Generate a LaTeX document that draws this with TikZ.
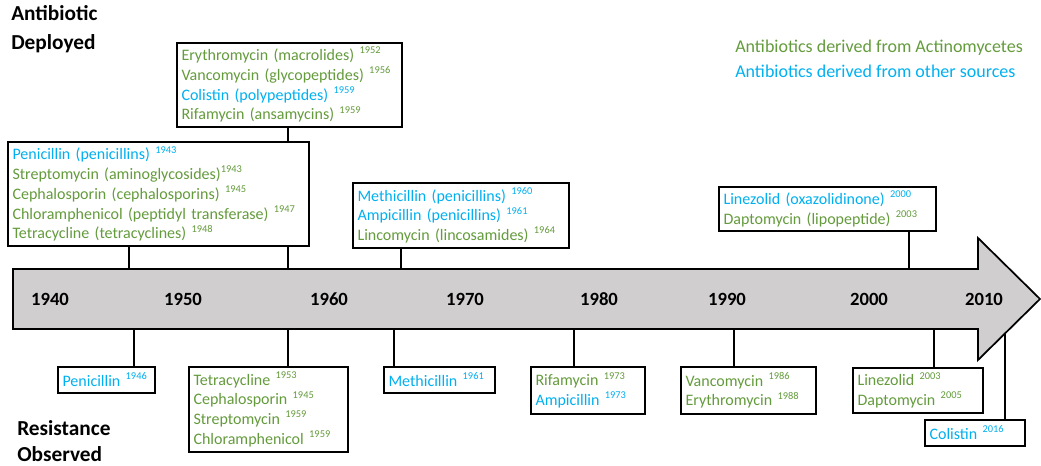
\documentclass[tikz,border=0pt]{standalone}
\usepackage{fontspec}
\setmainfont{Carlito}
\definecolor{actgreen}{RGB}{100,155,60}
\definecolor{othblue}{HTML}{00B0F0}
\definecolor{arrowgray}{HTML}{D0CECE}
\newcommand{\act}[1]{\textcolor{actgreen}{#1}}
\newcommand{\oth}[1]{\textcolor{othblue}{#1}}
\newcommand{\yrs}[1]{\raisebox{0.42em}{\fontsize{7.8}{8}\selectfont #1}}
\begin{document}
\begin{tikzpicture}[x=0.75pt,y=-0.75pt,
    drugbox/.style={draw,line width=1.3pt,fill=white,align=left,anchor=north west,
      inner xsep=3.5pt,inner ysep=2pt,font=\fontsize{12}{14.8}\selectfont},
    link/.style={line width=2pt},
    yearlabel/.style={font=\fontsize{14}{16}\selectfont\bfseries},
    heading/.style={align=left,anchor=west,inner sep=0pt}]
      \useasboundingbox (0,0) rectangle (1041,466);

      % Timeline arrow
      \draw[line width=1.3pt,fill=arrowgray] (13,269) -- (978,269) -- (978,238) -- (1040,299)
        -- (978,360) -- (978,329) -- (13,329) -- cycle;
      \foreach \yr/\x in {1940/50,1950/183,1960/329,1970/465,1980/599,1990/727,2000/869,2010/984}
        \node[yearlabel] (y\yr) at (\x,299) {\yr};

      % Headings and legend
      \node[heading,font=\fontsize{16}{21.75}\selectfont\bfseries] (deployed) at (11,29) {Antibiotic\\Deployed};
      \node[heading,font=\fontsize{16}{19.5}\selectfont\bfseries] (observed) at (17,441) {Resistance\\Observed};
      \node[heading,font=\fontsize{13.5}{15}\selectfont,text=actgreen] (legact) at (735,48) {Antibiotics derived from Actinomycetes};
      \node[heading,font=\fontsize{13.5}{15}\selectfont,text=othblue] (legoth) at (735,71) {Antibiotics derived from other sources};

      % Deployed (above the arrow)
      \node[drugbox,text width=218.75pt,minimum height=78pt] (dep40) at (7,141) {%
        \oth{Penicillin (penicillins) \yrs{1943}}\\
        \act{Streptomycin (aminoglycosides)\yrs{1943}}\\
        \act{Cephalosporin (cephalosporins) \yrs{1945}}\\
        \act{Chloramphenicol (peptidyl transferase) \yrs{1947}}\\
        \act{Tetracycline (tetracyclines) \yrs{1948}}};
      \node[drugbox,text width=161.75pt,minimum height=63pt] (dep50) at (176,42) {%
        \act{Erythromycin (macrolides) \yrs{1952}}\\
        \act{Vancomycin (glycopeptides) \yrs{1956}}\\
        \oth{Colistin (polypeptides) \yrs{1959}}\\
        \act{Rifamycin (ansamycins) \yrs{1959}}};
      \node[drugbox,text width=155pt,minimum height=48.75pt] (dep60) at (352,182) {%
        \oth{Methicillin (penicillins) \yrs{1960}}\\
        \oth{Ampicillin (penicillins) \yrs{1961}}\\
        \act{Lincomycin (lincosamides) \yrs{1964}}};
      \node[drugbox,text width=155.75pt,minimum height=33pt] (dep00) at (718,186) {%
        \oth{Linezolid (oxazolidinone) \yrs{2000}}\\
        \act{Daptomycin (lipopeptide) \yrs{2003}}};

      % Resistance (below the arrow)
      \node[drugbox,text width=65.75pt,minimum height=19.5pt] (res46) at (57,366) {\oth{Penicillin \yrs{1946}}};
      \node[drugbox,text width=112.25pt,minimum height=63.75pt] (res53) at (188,366) {%
        \act{Tetracycline \yrs{1953}}\\
        \act{Cephalosporin \yrs{1945}}\\
        \act{Streptomycin \yrs{1959}}\\
        \act{Chloramphenicol \yrs{1959}}};
      \node[drugbox,text width=76.25pt,minimum height=19.5pt] (res61) at (383,366) {\oth{Methicillin \yrs{1961}}};
      \node[drugbox,text width=78.5pt,minimum height=35.25pt] (res73) at (530,366) {%
        \act{Rifamycin \yrs{1973}}\\
        \oth{Ampicillin \yrs{1973}}};
      \node[drugbox,text width=94.25pt,minimum height=35.25pt] (res86) at (680,366) {%
        \act{Vancomycin \yrs{1986}}\\
        \act{Erythromycin \yrs{1988}}};
      \node[drugbox,text width=90.5pt,minimum height=33.75pt] (res03) at (852,367) {%
        \act{Linezolid \yrs{2003}}\\
        \act{Daptomycin \yrs{2005}}};
      \node[drugbox,text width=68pt,minimum height=19.5pt] (res16) at (924,419) {\oth{Colistin \yrs{2016}}};

      % Points on the arrow
      \coordinate (t40) at (129,269);
      \coordinate (t50) at (288,269);
      \coordinate (t60) at (401,269);
      \coordinate (t00) at (909,269);
      \coordinate (b46) at (134,329);
      \coordinate (b53) at (288,329);
      \coordinate (b61) at (394,329);
      \coordinate (b73) at (574,329);
      \coordinate (b86) at (734,329);
      \coordinate (b03) at (934,329);
      \coordinate (b16) at (1005,333.4);

      % Connectors
      \draw[link] (t40 |- dep40.south) -- (t40);
      \draw[link] (t50 |- dep50.south) -- (t50 |- dep40.north);
      \draw[link] (t50 |- dep40.south) -- (t50);
      \draw[link] (t60 |- dep60.south) -- (t60);
      \draw[link] (t00 |- dep00.south) -- (t00);
      \draw[link] (b46) -- (b46 |- res46.north);
      \draw[link] (b53) -- (b53 |- res53.north);
      \draw[link] (b61) -- (b61 |- res61.north);
      \draw[link] (b73) -- (b73 |- res73.north);
      \draw[link] (b86) -- (b86 |- res86.north);
      \draw[link] (b03) -- (b03 |- res03.north);
      \draw[link] (b16) -- (b16 |- res16.north);
\end{tikzpicture}
\end{document}
